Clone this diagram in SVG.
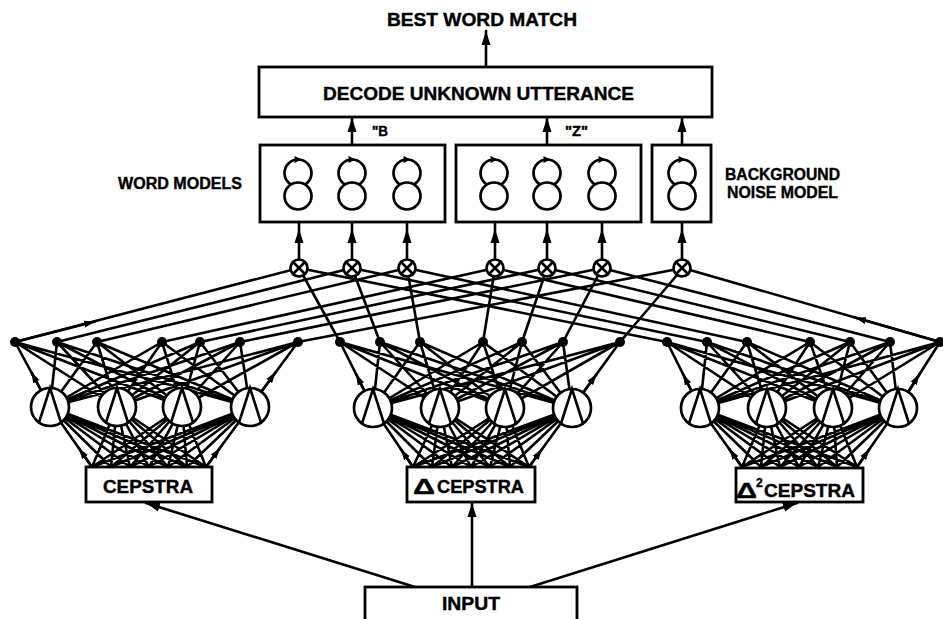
<svg xmlns="http://www.w3.org/2000/svg" xmlns:xlink="http://www.w3.org/1999/xlink" width="943" height="619" viewBox="0 0 943 619">
<style>
.ln{fill:none;stroke:#000;stroke-width:2.6;stroke-linecap:round}
.bx{fill:#fff;stroke:#000;stroke-width:2.8}
.nc{fill:#fff;stroke:#000;stroke-width:2.7}
.t{font-family:"Liberation Sans",Arial,Helvetica,sans-serif;font-weight:bold;fill:#000;stroke:#000;stroke-width:0.4}
.dot{fill:#000}
</style>
<defs>
<marker id="ah" markerUnits="userSpaceOnUse" markerWidth="15" markerHeight="10" refX="14" refY="5" orient="auto"><path d="M0 0.5L14 5L0 9.5Z" fill="#000"/></marker>
<marker id="as" markerUnits="userSpaceOnUse" markerWidth="12" markerHeight="8" refX="11" refY="4" orient="auto"><path d="M0 0.5L11 4L0 7.5Z" fill="#000"/></marker>
<marker id="at" markerUnits="userSpaceOnUse" markerWidth="8" markerHeight="6" refX="7" refY="3" orient="auto"><path d="M0 0L7 3L0 6Z" fill="#000"/></marker>
<g id="neuron"><circle class="nc" cx="0" cy="0" r="19"/><path class="ln" d="M-11 15.5L0 -19L11 15.5"/></g>
<g id="mult"><circle class="nc" cx="0" cy="0" r="8.5"/><path class="ln" stroke-width="2.2" d="M-6 -6L6 6M6 -6L-6 6"/></g>
<g id="state"><circle class="nc" cx="0" cy="-23" r="13.5"/><circle class="nc" cx="0" cy="0" r="13.5"/><path d="M-3.5 -40L3.5 -36.5L-3.5 -33Z" fill="#000"/></g>
</defs>

<g id="connectors">
<path class="ln" marker-end="url(#ah)" d="M415 587L146 503"/>
<path class="ln" marker-end="url(#ah)" d="M472 587L472 503"/>
<path class="ln" marker-end="url(#ah)" d="M530 587L797 503"/>
<path class="ln" d="M92 467L50 407M111 467L50 407M130 467L50 407M149 467L50 407M168 467L50 407M187 467L50 407M206 467L50 407M92 467L117 407M111 467L117 407M130 467L117 407M149 467L117 407M168 467L117 407M187 467L117 407M206 467L117 407M92 467L182 407M111 467L182 407M130 467L182 407M149 467L182 407M168 467L182 407M187 467L182 407M206 467L182 407M92 467L250 407M111 467L250 407M130 467L250 407M149 467L250 407M168 467L250 407M187 467L250 407M206 467L250 407"/>
<path class="ln" d="M50 407L15 342M50 407L57 342M50 407L97 342M50 407L162 342M50 407L200 342M50 407L240 342M50 407L298 342M117 407L15 342M117 407L57 342M117 407L97 342M117 407L162 342M117 407L200 342M117 407L240 342M117 407L298 342M182 407L15 342M182 407L57 342M182 407L97 342M182 407L162 342M182 407L200 342M182 407L240 342M182 407L298 342M250 407L15 342M250 407L57 342M250 407L97 342M250 407L162 342M250 407L200 342M250 407L240 342M250 407L298 342"/>
<path class="ln" marker-end="url(#as)" d="M92 467L78.7 448"/>
<path class="ln" marker-end="url(#as)" d="M206 467L220 448"/>
<path class="ln" marker-end="url(#as)" d="M50 407L31.2 372"/>
<path class="ln" marker-end="url(#as)" d="M250 407L275.8 372"/>
<path class="ln" d="M413 467L373 408M432 467L373 408M452 467L373 408M471 467L373 408M490 467L373 408M510 467L373 408M529 467L373 408M413 467L440 408M432 467L440 408M452 467L440 408M471 467L440 408M490 467L440 408M510 467L440 408M529 467L440 408M413 467L505 408M432 467L505 408M452 467L505 408M471 467L505 408M490 467L505 408M510 467L505 408M529 467L505 408M413 467L572 408M432 467L572 408M452 467L572 408M471 467L572 408M490 467L572 408M510 467L572 408M529 467L572 408"/>
<path class="ln" d="M373 408L340 342M373 408L380 342M373 408L420 342M373 408L483 342M373 408L522 342M373 408L563 342M373 408L620 342M440 408L340 342M440 408L380 342M440 408L420 342M440 408L483 342M440 408L522 342M440 408L563 342M440 408L620 342M505 408L340 342M505 408L380 342M505 408L420 342M505 408L483 342M505 408L522 342M505 408L563 342M505 408L620 342M572 408L340 342M572 408L380 342M572 408L420 342M572 408L483 342M572 408L522 342M572 408L563 342M572 408L620 342"/>
<path class="ln" marker-end="url(#as)" d="M413 467L400.8 449"/>
<path class="ln" marker-end="url(#as)" d="M529 467L542.1 449"/>
<path class="ln" marker-end="url(#as)" d="M373 408L356 374"/>
<path class="ln" marker-end="url(#as)" d="M572 408L596.7 374"/>
<path class="ln" d="M742 467L700 408M761 467L700 408M780 467L700 408M799 467L700 408M818 467L700 408M837 467L700 408M857 467L700 408M742 467L767 408M761 467L767 408M780 467L767 408M799 467L767 408M818 467L767 408M837 467L767 408M857 467L767 408M742 467L833 408M761 467L833 408M780 467L833 408M799 467L833 408M818 467L833 408M837 467L833 408M857 467L833 408M742 467L898 408M761 467L898 408M780 467L898 408M799 467L898 408M818 467L898 408M837 467L898 408M857 467L898 408"/>
<path class="ln" d="M700 408L667 342M700 408L707 342M700 408L747 342M700 408L810 342M700 408L850 342M700 408L890 342M700 408L940 342M767 408L667 342M767 408L707 342M767 408L747 342M767 408L810 342M767 408L850 342M767 408L890 342M767 408L940 342M833 408L667 342M833 408L707 342M833 408L747 342M833 408L810 342M833 408L850 342M833 408L890 342M833 408L940 342M898 408L667 342M898 408L707 342M898 408L747 342M898 408L810 342M898 408L850 342M898 408L890 342M898 408L940 342"/>
<path class="ln" marker-end="url(#as)" d="M742 467L729.2 449"/>
<path class="ln" marker-end="url(#as)" d="M857 467L869.5 449"/>
<path class="ln" marker-end="url(#as)" d="M700 408L683 374"/>
<path class="ln" marker-end="url(#as)" d="M898 408L919.6 374"/>
<path class="ln" d="M15 342L299 268M57 342L352 268M97 342L407 268M162 342L495 268M200 342L547 268M240 342L602 268M298 342L683 268"/>
<path class="ln" d="M340 342L299 268M380 342L352 268M420 342L407 268M483 342L495 268M522 342L547 268M563 342L602 268M620 342L683 268"/>
<path class="ln" d="M667 342L299 268M707 342L352 268M747 342L407 268M810 342L495 268M850 342L547 268M890 342L602 268M940 342L683 268"/>
<path class="ln" marker-end="url(#as)" d="M15 342L95 321.4"/>
<path class="ln" marker-end="url(#as)" d="M940 342L855 317.5"/>
<path class="ln" marker-mid="url(#ah)" d="M299 260L299 229L299 222"/>
<path class="ln" marker-mid="url(#ah)" d="M352 260L352 229L352 222"/>
<path class="ln" marker-mid="url(#ah)" d="M407 260L407 229L407 222"/>
<path class="ln" marker-mid="url(#ah)" d="M495 260L495 229L495 222"/>
<path class="ln" marker-mid="url(#ah)" d="M547 260L547 229L547 222"/>
<path class="ln" marker-mid="url(#ah)" d="M602 260L602 229L602 222"/>
<path class="ln" marker-mid="url(#ah)" d="M682 260L682 229L682 222"/>
<path class="ln" marker-end="url(#ah)" d="M352 145L352 118"/>
<path class="ln" marker-end="url(#ah)" d="M547 145L547 118"/>
<path class="ln" marker-end="url(#ah)" d="M682 145L682 118"/>
<path class="ln" marker-end="url(#ah)" d="M486 67L486 31"/>
<path class="ln" marker-mid="url(#at)" d="M311 196L327 196L339 196"/>
<path class="ln" marker-mid="url(#at)" d="M365 196L382 196L394 196"/>
<path class="ln" marker-mid="url(#at)" d="M507 196L523 196L534 196"/>
<path class="ln" marker-mid="url(#at)" d="M560 196L577 196L589 196"/>
</g>

<g id="input"><rect class="bx" x="365" y="587" width="212" height="34"/><text class="t" x="442" y="610" font-size="18" textLength="58" lengthAdjust="spacingAndGlyphs">INPUT</text></g>
<g id="cepstra"><rect class="bx" x="86" y="467" width="126" height="35"/><text class="t" x="103" y="493" font-size="18" textLength="90" lengthAdjust="spacingAndGlyphs">CEPSTRA</text></g>
<g id="dcepstra"><rect class="bx" x="407" y="467" width="128" height="35"/><text class="t" x="413" y="494" font-size="22" textLength="22" lengthAdjust="spacingAndGlyphs">Δ</text><text class="t" x="437" y="493" font-size="18" textLength="87" lengthAdjust="spacingAndGlyphs">CEPSTRA</text></g>
<g id="d2cepstra"><rect class="bx" x="736" y="468" width="127" height="34"/><text class="t" x="736" y="498" font-size="22" textLength="21" lengthAdjust="spacingAndGlyphs">Δ</text><text class="t" x="756" y="487" font-size="12">2</text><text class="t" x="764" y="497" font-size="18" textLength="91" lengthAdjust="spacingAndGlyphs">CEPSTRA</text></g>

<g id="hidden-left"><use xlink:href="#neuron" x="50" y="407"/><use xlink:href="#neuron" x="117" y="407"/><use xlink:href="#neuron" x="182" y="407"/><use xlink:href="#neuron" x="250" y="407"/></g>
<g id="hidden-mid"><use xlink:href="#neuron" x="373" y="408"/><use xlink:href="#neuron" x="440" y="408"/><use xlink:href="#neuron" x="505" y="408"/><use xlink:href="#neuron" x="572" y="408"/></g>
<g id="hidden-right"><use xlink:href="#neuron" x="700" y="408"/><use xlink:href="#neuron" x="767" y="408"/><use xlink:href="#neuron" x="833" y="408"/><use xlink:href="#neuron" x="898" y="408"/></g>

<g id="outputs-left" class="dot"><circle cx="15" cy="342" r="5"/><circle cx="57" cy="342" r="5"/><circle cx="97" cy="342" r="5"/><circle cx="162" cy="342" r="5"/><circle cx="200" cy="342" r="5"/><circle cx="240" cy="342" r="5"/><circle cx="298" cy="342" r="5"/></g>
<g id="outputs-mid" class="dot"><circle cx="340" cy="342" r="5"/><circle cx="380" cy="342" r="5"/><circle cx="420" cy="342" r="5"/><circle cx="483" cy="342" r="5"/><circle cx="522" cy="342" r="5"/><circle cx="563" cy="342" r="5"/><circle cx="620" cy="342" r="5"/></g>
<g id="outputs-right" class="dot"><circle cx="667" cy="342" r="5"/><circle cx="707" cy="342" r="5"/><circle cx="747" cy="342" r="5"/><circle cx="810" cy="342" r="5"/><circle cx="850" cy="342" r="5"/><circle cx="890" cy="342" r="5"/><circle cx="940" cy="342" r="5"/></g>

<g id="multipliers"><use xlink:href="#mult" x="299" y="268"/><use xlink:href="#mult" x="352" y="268"/><use xlink:href="#mult" x="407" y="268"/><use xlink:href="#mult" x="495" y="268"/><use xlink:href="#mult" x="547" y="268"/><use xlink:href="#mult" x="602" y="268"/><use xlink:href="#mult" x="682" y="268"/></g>

<g id="model-b"><rect class="bx" x="260" y="145" width="185" height="77"/><use xlink:href="#state" x="298" y="196"/><use xlink:href="#state" x="352" y="196"/><use xlink:href="#state" x="407" y="196"/></g>
<g id="model-z"><rect class="bx" x="456" y="145" width="185" height="77"/><use xlink:href="#state" x="494" y="196"/><use xlink:href="#state" x="547" y="196"/><use xlink:href="#state" x="602" y="196"/></g>
<g id="model-noise"><rect class="bx" x="652" y="145" width="59" height="77"/><use xlink:href="#state" x="682" y="196"/></g>

<g id="decoder"><rect class="bx" x="259" y="67" width="453" height="50"/><text class="t" x="323" y="100" font-size="19" textLength="311" lengthAdjust="spacingAndGlyphs">DECODE UNKNOWN UTTERANCE</text></g>

<g id="labels">
<text class="t" x="387" y="26" font-size="19" textLength="190" lengthAdjust="spacingAndGlyphs">BEST WORD MATCH</text>
<text class="t" x="372" y="136" font-size="14" textLength="16" lengthAdjust="spacingAndGlyphs">"B</text>
<text class="t" x="565" y="136" font-size="14" textLength="23" lengthAdjust="spacingAndGlyphs">"Z"</text>
<text class="t" x="118" y="189" font-size="16" textLength="124" lengthAdjust="spacingAndGlyphs">WORD MODELS</text>
<text class="t" x="725" y="180" font-size="16" textLength="115" lengthAdjust="spacingAndGlyphs">BACKGROUND</text>
<text class="t" x="727" y="198" font-size="16" textLength="111" lengthAdjust="spacingAndGlyphs">NOISE MODEL</text>
</g>
</svg>
